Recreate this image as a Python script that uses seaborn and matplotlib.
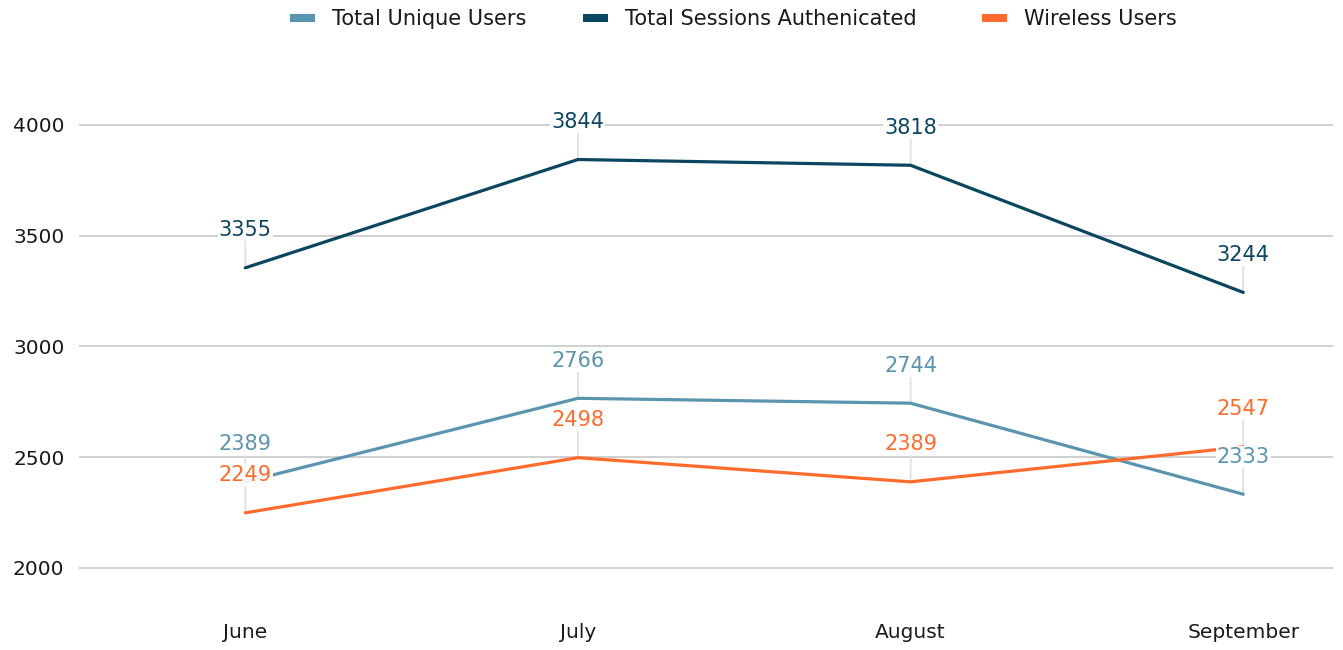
import matplotlib
matplotlib.use("Agg")
import matplotlib.pyplot as plt
import seaborn as sns
import pandas as pd
from matplotlib.lines import Line2D

months = ["June", "July", "August", "September"]
series_names = ["Total Unique Users", "Total Sessions Authenicated", "Wireless Users"]
unique_users = [2389, 2766, 2744, 2333]
sessions = [3355, 3844, 3818, 3244]
wireless = [2249, 2498, 2389, 2547]
colors = ["#5b94ae", "#0b4560", "#ff6b2c"]

sns.set_theme(style="white")
plt.rcParams['font.family'] = ['DejaVu Sans']

rows = []
for name, vals in zip(series_names, [unique_users, sessions, wireless]):
    for i, (m, v) in enumerate(zip(months, vals)):
        rows.append({"month": m, "idx": i, "series": name, "value": v})
df = pd.DataFrame(rows)

W, H = 1343, 650
fig = plt.figure(figsize=(W / 100, H / 100), dpi=100)
ax = fig.add_axes([0.0588, 0.058, 0.9338, 0.852])

sns.lineplot(data=df, x="idx", y="value", hue="series", hue_order=series_names,
             palette=colors, linewidth=2.3, ax=ax, legend=False, sort=False, zorder=3)

ax.set_xlim(-0.5, 3.27)
ax.set_ylim(1800, 4300)
ax.set_yticks([2000, 2500, 3000, 3500, 4000])
ax.set_xticks(range(len(months)))
ax.set_xticklabels(months)
ax.grid(axis="y", color="#c8c8c8", linewidth=1.2, zorder=0)
ax.grid(axis="x", visible=False)
for s in ax.spines.values():
    s.set_visible(False)
ax.tick_params(axis="both", length=0, labelsize=14.5, colors="#1a1a1a")
ax.tick_params(axis="y", pad=10.5)
ax.tick_params(axis="x", pad=7.5)
ax.set_xlabel("")
ax.set_ylabel("")

for name, col in zip(series_names, colors):
    sub = df[df.series == name]
    for _, r in sub.iterrows():
        ax.annotate("", xy=(r["idx"], r["value"]), xytext=(0, 27),
                    textcoords="offset points", zorder=2,
                    arrowprops=dict(arrowstyle="-", color="#e0e0e0", lw=1.3,
                                    shrinkA=0, shrinkB=0))
        ax.annotate(f"{r['value']}", xy=(r["idx"], r["value"]), xytext=(0, 27),
                    textcoords="offset points", ha="center", va="center",
                    fontsize=15, color=col, zorder=5,
                    bbox=dict(boxstyle="square,pad=0.05", fc="white", ec="none", alpha=0.92))

# legend entries placed at their positions along the top
legend_x = [290, 583, 982]
for name, col, x in zip(series_names, colors, legend_x):
    h = Line2D([0], [0], color=col, lw=5.8, solid_capstyle="butt")
    leg = fig.legend([h], [name], loc="center left", bbox_to_anchor=(x / W, 1 - 19 / H),
                     frameon=False, fontsize=15, handlelength=1.2, handletextpad=0.82,
                     borderpad=0, borderaxespad=0, labelcolor="#1a1a1a")

fig.savefig("out.png", dpi=100)
